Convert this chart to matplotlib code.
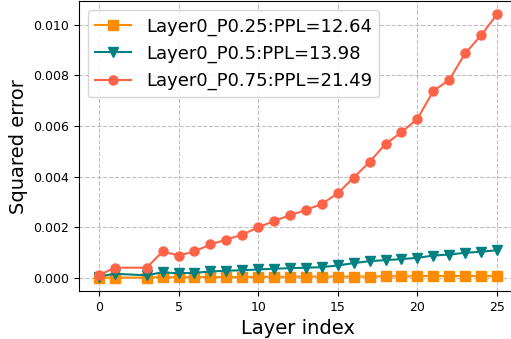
import numpy as np
import matplotlib
matplotlib.use("Agg")
import matplotlib.pyplot as plt

layers = [0, 1, 3, 4, 5, 6, 7, 8, 9, 10, 11, 12, 13, 14, 15, 16, 17, 18, 19, 20, 21, 22, 23, 24, 25]

err_p025 = [0.0, 0.00001, 0.00001, 0.00003, 0.00002, 0.00003, 0.00003, 0.00003, 0.00003, 0.00004,
            0.00004, 0.00004, 0.00005, 0.00005, 0.00005, 0.00005, 0.00005, 0.00006, 0.00006, 0.00006,
            0.00008, 0.00006, 0.00008, 0.00006, 0.00007]
err_p05 = [0.00005, 0.00016, 0.0001, 0.00022, 0.00018, 0.0002, 0.00025, 0.00028, 0.0003, 0.00033,
           0.00036, 0.00038, 0.0004, 0.00042, 0.00049, 0.00058, 0.00066, 0.0007, 0.00074, 0.00079,
           0.00088, 0.00092, 0.00099, 0.00103, 0.00109]
err_p075 = [0.0001, 0.0004, 0.0004, 0.00104, 0.00088, 0.00104, 0.00132, 0.00151, 0.00171, 0.00199,
            0.00225, 0.00247, 0.00268, 0.00292, 0.00334, 0.00396, 0.00458, 0.00529, 0.00575, 0.00628,
            0.00738, 0.00782, 0.00887, 0.00958, 0.01041]

labels = ["Layer0_P0.25:PPL=12.64", "Layer0_P0.5:PPL=13.98", "Layer0_P0.75:PPL=21.49"]

fig = plt.figure(figsize=(5.11, 3.39), dpi=100)
ax = fig.add_axes([0.1546, 0.1416, 0.857, 0.855])
ax.plot(layers, err_p025, marker="s", color="darkorange", lw=1.5, ms=6.5, label=labels[0])
ax.plot(layers, err_p05, marker="v", color="teal", lw=1.5, ms=6.5, label=labels[1])
ax.plot(layers, err_p075, marker="o", color="tomato", lw=1.5, ms=6.5, label=labels[2])
ax.grid(True, linestyle="--", color="#b0b0b0", alpha=0.8)
ax.tick_params(labelsize=9)
ax.set_xlabel("Layer index", fontsize=14)
ax.set_ylabel("Squared error", fontsize=14)
ax.legend(loc="upper left", fontsize=13)
fig.savefig("out.png", dpi=100)
